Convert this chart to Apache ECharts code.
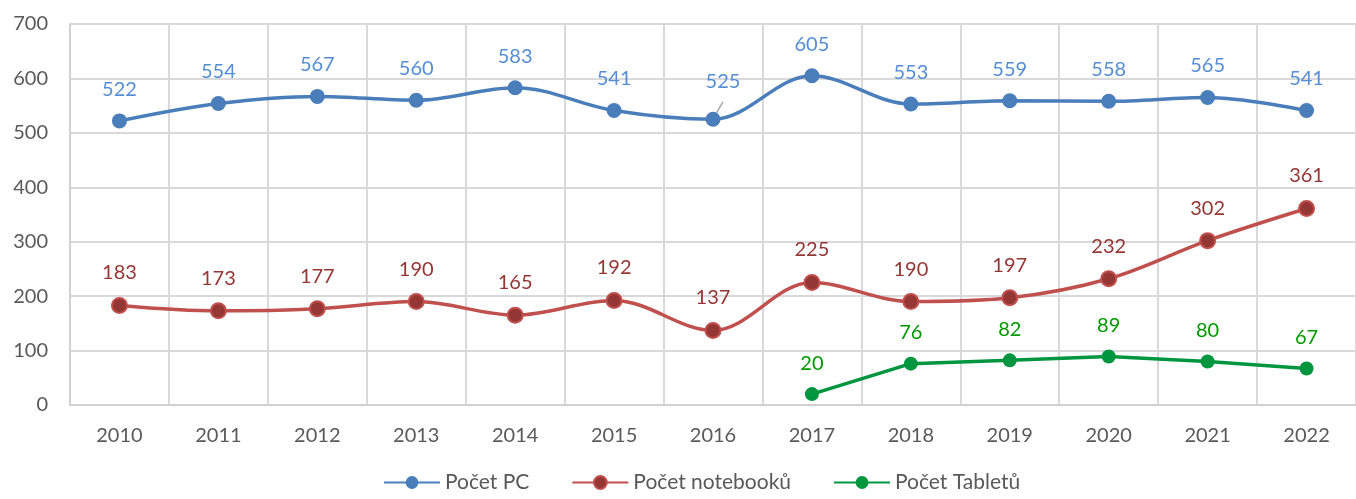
<!DOCTYPE html>
<html><head><meta charset="utf-8">
<script src="https://cdn.jsdelivr.net/npm/echarts@6/dist/echarts.min.js"></script>
<style>html,body{margin:0;padding:0;background:#fff}#c{width:1356px;height:499px}</style>
</head><body><div id="c"></div>
<script>
const categories = ['2010','2011','2012','2013','2014','2015','2016','2017','2018','2019','2020','2021','2022'];
const pcValues = [522,554,567,560,583,541,525,605,553,559,558,565,541];
const notebookValues = [183,173,177,190,165,192,137,225,190,197,232,302,361];
const tabletValues = [null,null,null,null,null,null,null,20,76,82,89,80,67];
const yTicks = [0,100,200,300,400,500,600,700];

const FONT = 'Lato, "Open Sans", sans-serif';
const chart = echarts.init(document.getElementById('c'));
function lbl(color){return {show:true,position:'top',distance:14,color:color,fontSize:20,fontFamily:FONT};}
const pcData = pcValues.map((v,i)=> i===6 ? {value:v,label:{offset:[10,-6]},labelLine:{show:true,lineStyle:{color:'#a6a6a6',width:1.5}}} : v);
chart.setOption({
  animation:false,
  grid:{left:70,right:-7,top:24,bottom:94},
  legend:{bottom:1,left:378,itemGap:42,itemWidth:56,itemHeight:16,
    textStyle:{fontSize:21,color:'#595959',fontFamily:FONT},
    data:['Počet PC','Počet notebooků','Počet Tabletů']},
  xAxis:{type:'category',data:categories,boundaryGap:true,
    axisLine:{lineStyle:{color:'#d0d0d0',width:2}},axisTick:{show:false},
    axisLabel:{color:'#595959',fontSize:20,fontFamily:FONT,margin:21},
    splitLine:{show:true,lineStyle:{color:'#d9d9d9',width:2}}},
  yAxis:{type:'value',min:yTicks[0],max:yTicks[yTicks.length-1],interval:100,
    axisLine:{show:true,lineStyle:{color:'#d0d0d0',width:2}},axisTick:{show:false},
    axisLabel:{color:'#595959',fontSize:20,fontFamily:FONT,margin:22},
    splitLine:{lineStyle:{color:'#d9d9d9',width:2}}},
  series:[
    {name:'Počet PC',type:'line',data:pcData,smooth:0.35,symbol:'circle',symbolSize:15,
     lineStyle:{color:'#4a7ebb',width:3.5},itemStyle:{color:'#4a7ebb'},label:lbl('#558ed5'),
     labelLine:{show:false}},
    {name:'Počet notebooků',type:'line',data:notebookValues,smooth:0.35,symbol:'circle',symbolSize:15,
     lineStyle:{color:'#c0504d',width:3.5},itemStyle:{color:'#943634',borderColor:'#c0504d',borderWidth:2},label:lbl('#943634')},
    {name:'Počet Tabletů',type:'line',data:tabletValues,smooth:false,symbol:'circle',symbolSize:14,
     lineStyle:{color:'#00963f',width:3.5},itemStyle:{color:'#00963f'},label:lbl('#009a00')}
  ]
});
</script></body></html>
